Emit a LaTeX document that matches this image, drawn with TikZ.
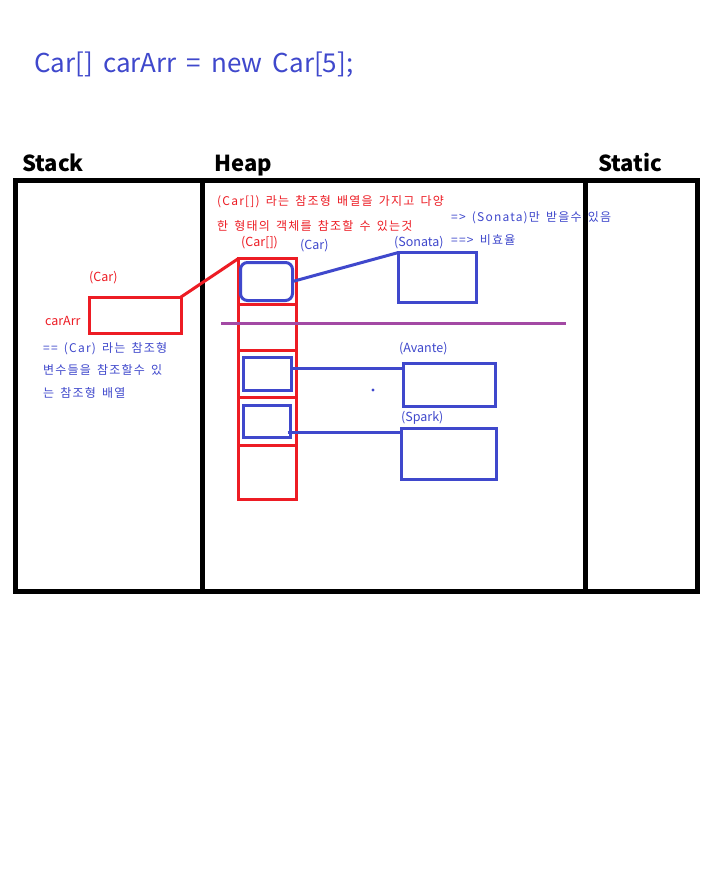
\documentclass[tikz,border=0pt]{standalone}
\usepackage{fontspec}
\setmainfont{Noto Sans CJK KR}
\newfontfamily\krsp{Noto Sans CJK KR}[LetterSpace=10,WordSpace=1.6]
\newfontfamily\krtitle{Noto Sans CJK KR}[WordSpace=1.75]
\usetikzlibrary{calc}
\definecolor{pred}{HTML}{ED1C24}
\definecolor{pblue}{HTML}{3F48CC}
\definecolor{ppurple}{HTML}{A349A4}
\tikzset{
  txt/.style={inner sep=0pt, anchor=base west, font=\krsp\fontsize{12}{14}\selectfont},
  lbl/.style={inner sep=0pt, anchor=base west, font=\fontsize{12.5}{14}\selectfont},
  redtxt/.style={txt, text=pred},
  bluetxt/.style={txt, text=pblue},
  redlbl/.style={lbl, text=pred},
  bluelbl/.style={lbl, text=pblue},
  head/.style={inner sep=0pt, anchor=base west, font=\fontsize{22}{24}\selectfont\bfseries},
  redbox/.style={draw=pred, line width=3pt, inner sep=0pt, outer sep=0pt, anchor=north west},
  bluebox/.style={draw=pblue, line width=3pt, inner sep=0pt, outer sep=0pt, anchor=north west},
  redline/.style={draw=pred, line width=3pt},
  blueline/.style={draw=pblue, line width=3pt},
  frame/.style={draw=black, line width=5pt}
}
\begin{document}
\begin{tikzpicture}[x=1pt,y=-1pt]
\useasboundingbox[fill=white] (0,0) rectangle (719,877);
% title
\node[inner sep=0pt, anchor=base west, text=pblue, font=\krtitle\fontsize{26}{30}\selectfont] (title) at (34,73) {Car[] carArr = new Car[5];};
% headers
\node[head] (hstack) at (22,172) {Stack};
\node[head] (hheap) at (214,172) {Heap};
\node[head] (hstatic) at (598,172) {Static};
% frame
\draw[frame] (15,181) rectangle (697,591);
\draw[frame] (202,181) -- (202,591);
\draw[frame] (585,181) -- (585,591);
% top texts
\node[redtxt] (t1) at (217,206) {(Car[]) 라는 참조형 배열을 가지고 다양};
\node[redtxt] (t2) at (217,230) {한 형태의 객체를 참조할 수 있는것};
\node[bluetxt] (t3) at (451,222) {=> (Sonata)만 받을수 있음};
\node[bluetxt] (t4) at (451,244) {==> 비효율};
\node[redlbl] (lcararr) at (241,247) {(Car[])};
\node[bluelbl] (lcar) at (300,249) {(Car)};
\node[bluelbl] (lsonata) at (394,246) {(Sonata)};
% stack side
\node[redlbl] (lcar2) at (89,281) {(Car)};
\node[redlbl] (lvar) at (45,325) {carArr};
\node[redbox, minimum width=92pt, minimum height=36pt] (stackbox) at (89,297) {};
\node[bluetxt] (s1) at (43,352) {== (Car) 라는 참조형};
\node[bluetxt] (s2) at (43,374) {변수들을 참조할수 있};
\node[bluetxt] (s3) at (43,397) {는 참조형 배열};
% array cells
\node[redbox, minimum width=58pt, minimum height=45.5pt] (cell1) at (238.5,258.5) {};
\node[redbox, minimum width=58pt, minimum height=46pt] (cell2) at (238.5,304) {};
\node[redbox, minimum width=58pt, minimum height=47pt] (cell3) at (238.5,350) {};
\node[redbox, minimum width=58pt, minimum height=48pt] (cell4) at (238.5,397) {};
\node[redbox, minimum width=58pt, minimum height=54.5pt] (cell5) at (238.5,445) {};
% references inside array
\node[bluebox, rounded corners=7pt, minimum width=52pt, minimum height=38pt] (ref1) at (240.5,262.5) {};
\node[bluebox, minimum width=48pt, minimum height=33pt] (ref3) at (243.5,357.5) {};
\node[bluebox, minimum width=47pt, minimum height=32pt] (ref4) at (243.5,405.5) {};
% objects
\node[bluebox, minimum width=78pt, minimum height=50pt] (sonata) at (398.5,252.5) {};
\node[bluelbl] (lavante) at (399,352) {(Avante)};
\node[bluebox, minimum width=92pt, minimum height=43pt] (avante) at (403.5,363.5) {};
\node[bluelbl] (lspark) at (401,421) {(Spark)};
\node[bluebox, minimum width=95pt, minimum height=51pt] (spark) at (401.5,428.5) {};
% divider
\draw[draw=ppurple, line width=3pt] (221,323) -- (566,323);
% connectors
\draw[redline] (stackbox.north east) -- (cell1.north west);
\draw[blueline] (ref1.east) -- (sonata.north west);
\draw[blueline] ($(ref3.north east)+(0,10.5)$) -- ($(avante.north west)+(0,4.5)$);
\draw[blueline] ($(ref4.north east)+(-3,26.5)$) -- ($(spark.north west)+(0,3.5)$);
% dot
\fill[pblue] (373,390) circle (1.6pt);
\end{tikzpicture}
\end{document}
